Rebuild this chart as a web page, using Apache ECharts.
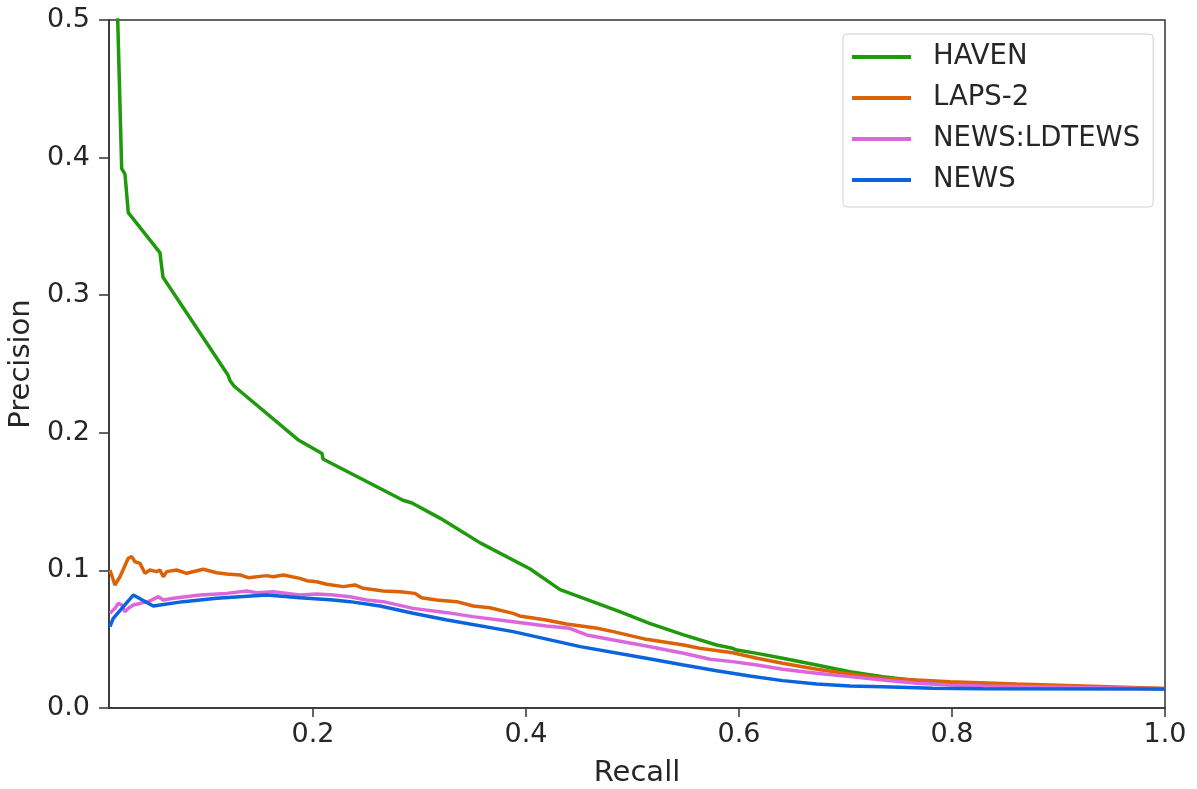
<!DOCTYPE html>
<html>
<head>
<meta charset="utf-8">
<script src="https://cdn.jsdelivr.net/npm/echarts@6/dist/echarts.min.js"></script>
<style>
  html, body { margin: 0; padding: 0; background: #fff; }
  #chart { width: 1197px; height: 789px; }
</style>
</head>
<body>
<div id="chart"></div>
<script>
// precision-recall curves
const seriesNames = ['HAVEN', 'LAPS-2', 'NEWS:LDTEWS', 'NEWS'];
const xTicks = [0.2, 0.4, 0.6, 0.8, 1.0];

const havenRecall = [0.0160, 0.0204, 0.0235, 0.0266, 0.0563, 0.0592, 0.1202, 0.1221, 0.1258, 0.1859, 0.2085, 0.2094, 0.2845, 0.2930, 0.3192, 0.357, 0.404, 0.432, 0.460, 0.488, 0.516, 0.548, 0.579, 0.594, 0.598, 0.617, 0.641, 0.673, 0.704, 0.735, 0.767, 0.798, 0.829, 0.892, 1.0];
const havenPrecision = [0.52, 0.392, 0.388, 0.360, 0.331, 0.313, 0.242, 0.238, 0.234, 0.195, 0.185, 0.181, 0.151, 0.149, 0.138, 0.120, 0.101, 0.086, 0.078, 0.070, 0.0615, 0.0531, 0.0458, 0.0434, 0.0421, 0.0397, 0.0361, 0.0312, 0.0264, 0.0228, 0.0199, 0.018, 0.0167, 0.0155, 0.0140];

const lapsRecall = [0.0094, 0.0141, 0.0188, 0.0266, 0.0298, 0.0329, 0.0376, 0.0423, 0.0469, 0.0532, 0.0563, 0.0595, 0.0626, 0.072, 0.0814, 0.097, 0.1096, 0.119, 0.1315, 0.1393, 0.1565, 0.1627, 0.1721, 0.1878, 0.1941, 0.2034, 0.2128, 0.2285, 0.2394, 0.2473, 0.266, 0.2817, 0.2958, 0.302, 0.316, 0.335, 0.3505, 0.366, 0.388, 0.394, 0.419, 0.438, 0.467, 0.482, 0.513, 0.548, 0.563, 0.594, 0.617, 0.641, 0.673, 0.704, 0.735, 0.767, 0.798, 0.861, 0.923, 1.0];
const lapsPrecision = [0.1003, 0.0894, 0.0954, 0.1088, 0.110, 0.1063, 0.1051, 0.0979, 0.1003, 0.0991, 0.1003, 0.0954, 0.0991, 0.1003, 0.0979, 0.1008, 0.0983, 0.0974, 0.0967, 0.0947, 0.0962, 0.0954, 0.0967, 0.0942, 0.0925, 0.0918, 0.0899, 0.0882, 0.0894, 0.087, 0.085, 0.0845, 0.0833, 0.0801, 0.0785, 0.0773, 0.0741, 0.0729, 0.0688, 0.0669, 0.064, 0.061, 0.0579, 0.0555, 0.0499, 0.0458, 0.0434, 0.0402, 0.0361, 0.0325, 0.0281, 0.0247, 0.0216, 0.0203, 0.0191, 0.0174, 0.016, 0.0142];

const ldtewsRecall = [0.0094, 0.0141, 0.0172, 0.0204, 0.0235, 0.0266, 0.0313, 0.0376, 0.0469, 0.0516, 0.0548, 0.0595, 0.0689, 0.0939, 0.119, 0.1377, 0.1471, 0.1627, 0.1878, 0.2034, 0.2191, 0.2347, 0.2504, 0.266, 0.294, 0.326, 0.350, 0.388, 0.419, 0.441, 0.457, 0.482, 0.513, 0.548, 0.573, 0.594, 0.617, 0.641, 0.673, 0.704, 0.735, 0.767, 0.798, 0.829, 1.0];
const ldtewsPrecision = [0.0688, 0.0724, 0.076, 0.0749, 0.070, 0.0724, 0.0749, 0.076, 0.0778, 0.0797, 0.0809, 0.0785, 0.0797, 0.0821, 0.0833, 0.085, 0.0838, 0.0845, 0.0821, 0.0828, 0.0821, 0.0809, 0.0785, 0.0773, 0.0724, 0.0693, 0.0664, 0.0627, 0.0596, 0.0579, 0.0531, 0.0494, 0.0451, 0.0398, 0.0354, 0.0337, 0.0312, 0.0281, 0.0252, 0.0228, 0.0203, 0.018, 0.0167, 0.016, 0.0140];

const newsRecall = [0.0094, 0.0125, 0.0313, 0.050, 0.0782, 0.1096, 0.1565, 0.1878, 0.2191, 0.2347, 0.263, 0.294, 0.326, 0.388, 0.451, 0.513, 0.548, 0.579, 0.610, 0.641, 0.673, 0.704, 0.735, 0.782, 0.829, 1.0];
const newsPrecision = [0.0591, 0.0652, 0.0821, 0.0741, 0.0773, 0.0797, 0.0821, 0.0802, 0.0785, 0.0773, 0.0741, 0.0688, 0.064, 0.0555, 0.0446, 0.0361, 0.0312, 0.0271, 0.0233, 0.0199, 0.0174, 0.016, 0.0155, 0.0143, 0.014, 0.0138];

const colors = ['#1f9a0c', '#dc6208', '#dc66dc', '#0a64dc'];

const zip = (xs, ys) => xs.map((x, i) => [x, ys[i]]);
const curves = [
  zip(havenRecall, havenPrecision),
  zip(lapsRecall, lapsPrecision),
  zip(ldtewsRecall, ldtewsPrecision),
  zip(newsRecall, newsPrecision)
];

const font = 'DejaVu Sans';
const chart = echarts.init(document.getElementById('chart'));

chart.setOption({
  animation: false,
  backgroundColor: '#fff',
  color: colors,
  grid: {
    left: 109,
    right: 32,
    top: 20,
    bottom: 81,
    outerBoundsMode: 'none',
    containLabel: false,
    show: true,
    borderColor: '#333',
    borderWidth: 1.5
  },
  legend: {
    orient: 'vertical',
    left: 843,
    top: 34,
    padding: [8, 13, 12, 9],
    itemWidth: 59,
    itemHeight: 4,
    itemGap: 11,
    icon: 'rect',
    backgroundColor: '#fff',
    borderColor: '#d0d0d0',
    borderWidth: 1,
    borderRadius: 4,
    textStyle: {
      fontFamily: font,
      fontSize: 27.5,
      color: '#262626',
      lineHeight: 30,
      padding: [0, 0, 0, 17]
    },
    data: seriesNames
  },
  xAxis: {
    type: 'value',
    min: 0.0085,
    max: 1,
    name: 'Recall',
    nameLocation: 'middle',
    nameGap: 51,
    nameTextStyle: { fontFamily: font, fontSize: 29, color: '#262626' },
    axisLine: { onZero: false, lineStyle: { color: '#333', width: 1.5 } },
    axisTick: { customValues: xTicks, length: 9, lineStyle: { color: '#333', width: 1.5 } },
    axisLabel: {
      customValues: xTicks,
      margin: 13,
      fontFamily: font,
      fontSize: 27,
      color: '#262626',
      formatter: v => v.toFixed(1)
    },
    splitLine: { show: false }
  },
  yAxis: {
    type: 'value',
    min: 0,
    max: 0.5,
    interval: 0.1,
    name: 'Precision',
    nameLocation: 'middle',
    nameGap: 66,
    nameTextStyle: { fontFamily: font, fontSize: 29, color: '#262626' },
    axisLine: { show: true, lineStyle: { color: '#333', width: 1.5 } },
    axisTick: { show: true, length: 10, lineStyle: { color: '#333', width: 1.5 } },
    axisLabel: {
      margin: 19,
      fontFamily: font,
      fontSize: 27,
      color: '#262626',
      formatter: v => v.toFixed(1)
    },
    splitLine: { show: false }
  },
  series: seriesNames.map((name, i) => ({
    name: name,
    type: 'line',
    data: curves[i],
    showSymbol: false,
    clip: true,
    z: 2 + i,
    lineStyle: { color: colors[i], width: 3.5 },
    itemStyle: { color: colors[i] }
  }))
});
</script>
</body>
</html>
